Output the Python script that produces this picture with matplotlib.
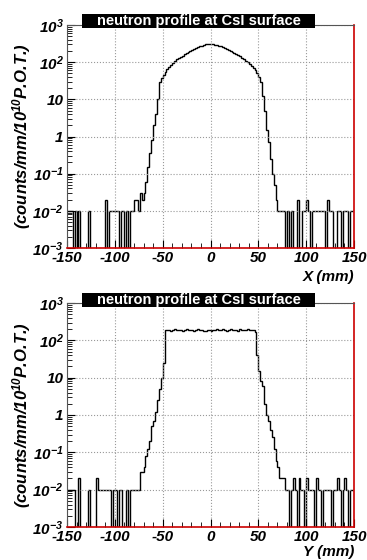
import numpy as np
import matplotlib
matplotlib.use("Agg")
import matplotlib.pyplot as plt
from matplotlib.patches import Rectangle
from matplotlib.ticker import FixedLocator, MultipleLocator, LogLocator, NullFormatter

plt.rcParams['font.family'] = ['Liberation Sans', 'DejaVu Sans']
plt.rcParams['mathtext.fontset'] = 'custom'
plt.rcParams['mathtext.rm'] = 'Liberation Sans:italic:bold'
plt.rcParams['mathtext.it'] = 'Liberation Sans:italic:bold'
plt.rcParams['mathtext.bf'] = 'Liberation Sans:italic:bold'

# ---------------- data ----------------
bin_edges = np.arange(-150, 152, 2)  # 2 mm bins

x_left_tail = [0.01, 0.01, 0.01, 0, 0.01, 0, 0.01, 0, 0, 0,
               0, 0.01, 0, 0, 0, 0, 0, 0, 0, 0,
               0.02, 0, 0.01, 0.01, 0.01, 0.01, 0.01, 0, 0.01, 0.01,
               0, 0.01, 0, 0.01, 0.01, 0.02, 0.02, 0.01, 0.03]
x_core = [0.02, 0.03, 0.06, 0.15, 0.35, 0.8, 2, 4, 10, 30, 38, 45, 55, 65, 75, 85, 95, 110,
          120, 130, 140, 150, 165, 175, 190, 200, 215, 230, 245, 255, 265, 275, 285, 300, 310, 310,
          305, 300, 295, 285, 275, 265, 255, 240, 225, 215, 200, 190, 175, 165, 155, 145, 130, 120,
          110, 100, 90, 80, 70, 60, 50, 40, 30, 12, 5, 1.5, 0.7, 0.25, 0.1, 0.05, 0.02, 0.01]
x_right_tail = [0.01, 0.01, 0.01, 0, 0.01, 0, 0.01, 0, 0, 0.02,
                0, 0, 0.01, 0.01, 0.02, 0.01, 0, 0.01, 0.01, 0.01,
                0.01, 0.01, 0.01, 0.01, 0, 0.02, 0.01, 0.01, 0, 0,
                0.01, 0.01, 0, 0.01, 0.01, 0.01, 0, 0.01, 0.01]

y_left_tail = [0.01, 0.01, 0.01, 0.01, 0, 0, 0.02, 0, 0, 0,
               0, 0.01, 0, 0, 0, 0.02, 0.01, 0.01, 0.01, 0.01,
               0.01, 0.01, 0.01, 0, 0.01, 0.01, 0, 0.01, 0.01, 0,
               0, 0.01, 0, 0.01, 0.01, 0.01, 0.01, 0.01]
y_rise = [0.03, 0.03, 0.04, 0.08, 0.12, 0.2, 0.5, 0.7, 1.2, 2.5, 5, 10, 25, 190]
y_plateau = [185, 195, 180, 190, 200, 185, 190, 195, 180, 185,
             200, 190, 195, 185, 180, 190, 200, 195, 185, 180,
             175, 185, 190, 180, 185, 195, 200, 185, 190, 205,
             195, 180, 190, 200, 185, 195, 190, 180, 200, 195,
             185, 190, 200, 185, 195, 190]
y_fall = [170, 40, 15, 8, 6, 2, 1, 0.7, 0.4, 0.25, 0.12, 0.06, 0.04, 0.02]
y_right_tail = [0.02, 0.02, 0.01, 0.01, 0, 0.01, 0.02, 0.01, 0, 0.02,
                0.01, 0.01, 0, 0.02, 0.01, 0.01, 0.01, 0, 0.02, 0.01,
                0.01, 0, 0.01, 0.01, 0.01, 0.01, 0, 0.01, 0.01, 0.02,
                0.01, 0, 0.01, 0.02, 0.01, 0, 0.01, 0.01]

x_profile = np.array(x_left_tail + x_core + x_right_tail, dtype=float)
y_profile = np.array(y_left_tail + y_rise + y_plateau + y_fall + y_right_tail, dtype=float)

x_ticks = [-150, -100, -50, 0, 50, 100, 150]
x_tick_labels = ['-150', '-100', '-50', '0', '50', '100', '150']
y_ticks = [1e-3, 1e-2, 1e-1, 1, 10, 1e2, 1e3]
y_tick_labels = ['10$^{-3}$', '10$^{-2}$', '10$^{-1}$', '1', '10', '10$^{2}$', '10$^{3}$']
title_text = 'neutron profile at CsI surface'
y_label = '(counts/mm/10$^{10}$P.O.T.)'
panel_xlabels = ['X (mm)', 'Y (mm)']

W, H = 367, 560
fig = plt.figure(figsize=(W / 100, H / 100), dpi=100)

def fx(px):
    return px / W

def fy(py):
    return 1 - py / H

panels = [
    (x_profile, 25, 248, panel_xlabels[0], 14, 28, 277),
    (y_profile, 303, 527, panel_xlabels[1], 293, 307, 552),
]
ax_left, ax_right = 67, 354

for vals, top, bot, xl, ttop, tbot, xly in panels:
    ax = fig.add_axes([fx(ax_left), fy(bot), fx(ax_right - ax_left), (bot - top) / H])
    drawn = np.where(vals > 0, vals, 1e-6)
    ax.stairs(drawn, bin_edges, color='black', lw=1.0, baseline=None)
    ax.set_yscale('log')
    ax.set_xlim(-150, 150)
    ax.set_ylim(1e-3, 1e3)
    ax.xaxis.set_major_locator(FixedLocator(x_ticks))
    ax.set_xticklabels(x_tick_labels)
    ax.xaxis.set_minor_locator(MultipleLocator(10))
    ax.yaxis.set_major_locator(FixedLocator(y_ticks))
    ax.set_yticklabels(y_tick_labels)
    ax.yaxis.set_minor_locator(LogLocator(base=10, subs=np.arange(2, 10), numticks=20))
    ax.yaxis.set_minor_formatter(NullFormatter())
    ax.tick_params(which='both', direction='in', top=False, right=False)
    ax.tick_params(which='major', length=6, width=0.8, pad=2.5)
    ax.tick_params(which='minor', length=3.5, width=0.6)
    for lab in ax.get_xticklabels() + ax.get_yticklabels():
        lab.set_fontsize(11)
        lab.set_fontweight('bold')
        lab.set_fontstyle('italic')
    ax.grid(True, which='major', linestyle=':', color='#999999', lw=0.8)
    for s in ['left', 'top']:
        ax.spines[s].set_color('#555555')
        ax.spines[s].set_linewidth(0.8)
    for s in ['right', 'bottom']:
        ax.spines[s].set_color('#cc0000')
        ax.spines[s].set_linewidth(1.2)
    # title box
    fig.patches.append(Rectangle((fx(82), fy(tbot)), fx(315 - 82), (tbot - ttop) / H,
                                 transform=fig.transFigure, facecolor='black',
                                 edgecolor='none', zorder=5))
    fig.text(fx((82 + 315) / 2), fy((ttop + tbot) / 2), title_text, color='white',
             fontsize=10.5, fontweight='bold', ha='center', va='center', zorder=6)
    fig.text(fx(ax_right), fy(xly), xl, fontsize=11, fontweight='bold',
             fontstyle='italic', ha='right', va='center')
    fig.text(fx(22), fy((top + bot) / 2), y_label, fontsize=12, fontweight='bold',
             fontstyle='italic', rotation=90, ha='center', va='center')

fig.savefig('out.png', dpi=100, facecolor='white')
